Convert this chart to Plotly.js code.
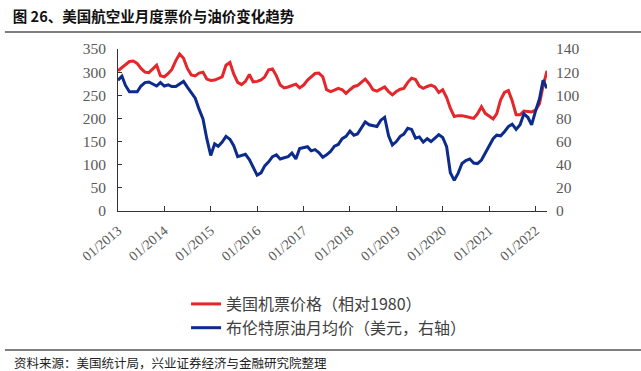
<!DOCTYPE html>
<html>
<head>
<meta charset="utf-8">
<script src="https://cdn.plot.ly/plotly-3.0.1.min.js"></script>
<style>html,body{margin:0;padding:0;background:#fff;}#chart{width:641px;height:371px;}</style>
</head>
<body>
<div id="chart"></div>
<script>
// Monthly data, 01/2013 .. 04/2022
const startYear = 2013, startMonth = 1;
const airfare = [
  303,310,316,323,324,319,308,300,299,307,315,292,
  290,297,306,325,339,330,308,294,292,298,300,285,
  282,283,287,290,315,321,296,278,273,280,295,279,
  280,283,290,305,307,292,272,266,268,271,274,266,
  272,283,290,297,298,290,262,258,261,265,262,254,
  262,269,271,279,285,275,262,259,263,268,258,251,
  258,263,265,278,287,284,270,265,269,272,268,256,
  262,245,222,204,206,206,204,202,200,210,225,211,
  205,199,210,240,256,260,238,208,208,216,215,214,
  218,232,270,303
];
const brent = [
  113,116.5,108.5,103,103,103,108,111,111.5,109.5,108,111,
  108,109,107.5,107.5,110,112,107,102,97.5,88,79.5,62.5,
  48,58,56,59.5,64.5,62,56.5,47,48,49,44.5,38,
  31,33,39,42.5,47,48.5,45,46,47,50,45,54,
  55,55.5,52,53,50.5,46.5,48.5,51.5,56,57.5,62.5,64.5,
  69,65.5,66.5,71.5,77,74.5,74,73,78.5,81,65,57,
  60,64.5,66.5,71.5,70.5,63,64,59.5,62.5,60,63,66,
  63.5,55.5,33,26.5,32.5,41,43.5,45,41.5,41,44,50,
  55.5,62.5,65.5,65,68.5,73,75,70.5,74.5,84,81,74.5,
  86.5,97,113,106
];
const seriesNames = ["美国机票价格（相对1980）", "布伦特原油月均价（美元，右轴）"];
const titleText = "图 26、美国航空业月度票价与油价变化趋势";
const sourceText = "资料来源：美国统计局，兴业证券经济与金融研究院整理";

function monthDates(n){
  const out = [];
  for (let i = 0; i < n; i++){
    const m = startMonth - 1 + i;
    const y = startYear + Math.floor(m / 12);
    const mm = (m % 12) + 1;
    out.push(y + "-" + (mm < 10 ? "0" + mm : mm) + "-01");
  }
  return out;
}
const dates = monthDates(airfare.length);

const serif = "Liberation Serif, Times New Roman, serif";
const cjk = "Noto Sans CJK SC, sans-serif";

const traces = [
  {x: dates, y: airfare, name: seriesNames[0], type: "scatter", mode: "lines",
   line: {color: "#E5262A", width: 3}, yaxis: "y"},
  {x: dates, y: brent, name: seriesNames[1], type: "scatter", mode: "lines",
   line: {color: "#0C2B8C", width: 3}, yaxis: "y2"}
];

const layout = {
  width: 641, height: 371,
  margin: {l: 118, r: 94, t: 49, b: 160, pad: 0},
  paper_bgcolor: "#fff", plot_bgcolor: "#fff",
  showlegend: true,
  title: {text: titleText, x: 0.02, xanchor: "left", xref: "container",
          y: 1 - 17/371, yref: "container", yanchor: "middle",
          font: {family: cjk, size: 14.5, color: "#111", weight: 700}},
  xaxis: {type: "date", range: [dates[0], dates[dates.length - 1]],
          tick0: dates[0], dtick: "M12", tickformat: "%m/%Y", tickangle: -40,
          showgrid: false, zeroline: false, showline: true, linecolor: "#333", linewidth: 1,
          ticks: "inside", ticklen: 5, tickcolor: "#333", ticklabelstandoff: 5,
          tickfont: {family: serif, size: 14, color: "#595959"}},
  yaxis: {range: [0, 350], dtick: 50, showgrid: false, zeroline: false,
          showline: true, linecolor: "#333", linewidth: 1,
          ticks: "inside", ticklen: 4, tickcolor: "#333", ticklabelstandoff: 8,
          tickfont: {family: serif, size: 15.5, color: "#595959"}},
  yaxis2: {range: [0, 140], dtick: 20, overlaying: "y", side: "right",
           showgrid: false, zeroline: false, showline: false, ticks: "", ticklabelstandoff: 8,
           tickfont: {family: serif, size: 15.5, color: "#595959"}},
  legend: {x: (186-118)/428.7, xanchor: "left", y: (211-287)/162, yanchor: "top",
           orientation: "v", font: {family: cjk, size: 16, color: "#404040"},
           tracegroupgap: 0, bgcolor: "rgba(0,0,0,0)"},
  shapes: [
    {type: "line", xref: "paper", yref: "paper", x0: (5-118)/428.7, x1: (641-118)/428.7,
     y0: (211-32)/162, y1: (211-32)/162, line: {color: "#555", width: 1.5}},
    {type: "line", xref: "paper", yref: "paper", x0: (5-118)/428.7, x1: (641-118)/428.7,
     y0: (211-350)/162, y1: (211-350)/162, line: {color: "#555", width: 1.5}}
  ],
  annotations: [
    {text: sourceText, xref: "paper", yref: "paper", x: (12-118)/428.7, xanchor: "left",
     y: (211-362)/162, yanchor: "middle", showarrow: false,
     font: {family: cjk, size: 12.5, color: "#222"}}
  ]
};

Plotly.newPlot("chart", traces, layout, {displayModeBar: false, staticPlot: true});
</script>
</body>
</html>
